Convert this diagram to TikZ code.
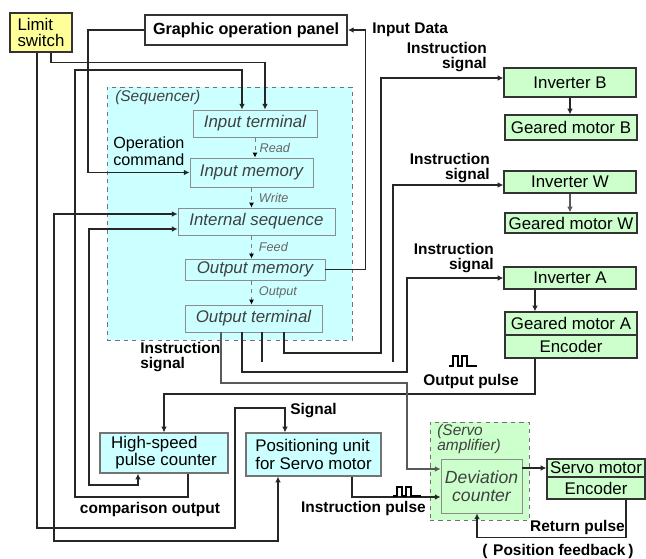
\documentclass[tikz,border=0pt]{standalone}
\usepackage{fontspec}
\setmainfont{Liberation Sans}
\usetikzlibrary{arrows.meta, positioning}

\definecolor{seqcyan}{HTML}{CCFFFF}
\definecolor{unitgreen}{HTML}{CCFFCC}
\definecolor{switchyellow}{HTML}{FFFF99}

\begin{document}
\begin{tikzpicture}[
  x=0.025cm, y=-0.025cm,
  box/.style={draw=black!80, line width=0.9pt, inner sep=0pt, align=center, font=\fontsize{12}{11}\selectfont},
  unitbox/.style={box, fill=unitgreen},
  stage/.style={draw=black!45, line width=0.6pt, fill=seqcyan, inner sep=0pt, align=center, font=\fontsize{12}{12}\selectfont\itshape, text=black!75},
  region/.style={draw=black!55, dashed, line width=0.6pt, inner sep=0pt},
  lbl/.style={font=\fontsize{11}{10.5}\selectfont\bfseries, inner sep=0pt},
  note/.style={font=\fontsize{9}{9}\selectfont\itshape, text=black!60, inner sep=1pt},
  arrow/.style={-{Latex[length=4pt,width=4pt]}},
  twoway/.style={{Latex[length=4pt,width=4pt]}-{Latex[length=4pt,width=4pt]}},
  conn/.style={line width=0.9pt, black!85},
  heavy/.style={line width=1.5pt, black!85},
  light/.style={line width=0.8pt, black!65},
  flow/.style={-{Latex[length=3.5pt,width=3.5pt,color=black]}, line width=0.6pt, black!50, dashed},
  pulse/.style={line width=1.2pt, black}
]
\useasboundingbox (0,0) rectangle (646,559);
\fill[white] (0,0) rectangle (646,559);

% LIMIT SWITCH AND PANEL
\node[box, fill=switchyellow, line width=1.2pt, minimum width=1.55cm, minimum height=0.975cm, align=left] (limit) at (41,32.5) {Limit\\switch};
\node[box, fill=white, line width=1.3pt, minimum width=5.05cm, minimum height=0.75cm, font=\fontsize{11.5}{11}\selectfont\bfseries] (panel) at (246,30) {Graphic operation panel};

% SEQUENCER
\node[region, fill=seqcyan, minimum width=6.125cm, minimum height=6.325cm] (seq) at (229.5,213.5) {};
\node[anchor=west, inner sep=0pt, font=\fontsize{11}{11}\selectfont\itshape, text=black!75] (seqTitle) at (115,98) {(Sequencer)};
\node[stage, minimum width=3.1cm, minimum height=0.675cm] (inTerm) at (255,123.5) {Input terminal};
\node[stage, minimum width=3.075cm, minimum height=0.725cm] (inMem) at (251.5,172.5) {Input memory};
\node[stage, minimum width=3.925cm, minimum height=0.675cm] (intSeq) at (256.5,221.5) {Internal sequence};
\node[stage, minimum width=3.5cm, minimum height=0.525cm] (outMem) at (255,269.5) {Output memory};
\node[stage, minimum width=3.425cm, minimum height=0.675cm] (outTerm) at (253.5,318.5) {Output terminal};

\draw[flow] (inTerm.south) -- (inTerm.south |- inMem.north) node[midway, right, note, xshift=2pt] {Read};
\draw[flow] (inMem.south) -- (inMem.south |- intSeq.north) node[midway, right, note, xshift=4pt] {Write};
\draw[flow] (inMem.south |- intSeq.south) -- (inMem.south |- outMem.north) node[midway, right, note, xshift=4pt] {Feed};
\draw[flow] (inMem.south |- outMem.south) -- (inMem.south |- outTerm.north) node[midway, right, note, xshift=4pt] {Output};

\node[anchor=west, align=left, inner sep=0pt, font=\fontsize{11.5}{10.5}\selectfont] (opCmd) at (113,151) {Operation\\command};

% INVERTERS AND MOTORS
\node[unitbox, minimum width=3.3cm, minimum height=0.725cm] (invB) at (570,82.5) {Inverter B};
\node[unitbox, minimum width=3.3cm, minimum height=0.625cm] (gearB) at (571,127.5) {Geared motor B};
\node[unitbox, minimum width=3.3cm, minimum height=0.55cm] (invW) at (570,182) {Inverter W};
\node[unitbox, minimum width=3.3cm, minimum height=0.5cm] (gearW) at (571,223) {Geared motor W};
\node[unitbox, minimum width=3.3cm, minimum height=0.55cm] (invA) at (570,278) {Inverter A};
\node[unitbox, minimum width=3.3cm, minimum height=0.575cm] (gearA) at (571,323.5) {Geared motor A};
\node[unitbox, minimum width=3.3cm, minimum height=0.575cm] (encA) at (571,346.5) {Encoder};

\draw[heavy, arrow] (invB.south) -- (invB.south |- gearB.north);
\draw[light, arrow] (invW.south) -- (invW.south |- gearW.north);
\draw[heavy, arrow] ([xshift=-0.875cm]invA.south) -- ([xshift=-0.875cm]invA.south |- gearA.north);

% COUNTER, POSITIONING UNIT, SERVO
\node[box, fill=seqcyan, draw=black!55, minimum width=3.2cm, minimum height=1cm, align=left] (hsCnt) at (164,453) {High-speed\\\hspace*{3pt}pulse counter};
\node[box, fill=seqcyan, draw=black!55, minimum width=3.375cm, minimum height=1.075cm, align=left, font=\fontsize{12}{13}\selectfont] (posUnit) at (313.5,454.5) {Positioning unit\\for Servo motor};

\node[region, fill=unitgreen, minimum width=2.475cm, minimum height=2.45cm] (servoAmp) at (479.5,471) {};
\node[anchor=north west, align=left, inner sep=0pt, font=\fontsize{11}{10.5}\selectfont\itshape, text=black!75] (ampTitle) at (437,424) {(Servo\\amplifier)};
\node[stage, fill=unitgreen, minimum width=2.025cm, minimum height=1.35cm, font=\fontsize{12.5}{12.5}\selectfont\itshape] (devCnt) at (481.5,486) {Deviation\\counter};

\node[unitbox, minimum width=2.45cm, minimum height=0.45cm] (srvMotor) at (596,468) {Servo motor};
\node[unitbox, minimum width=2.45cm, minimum height=0.55cm] (srvEnc) at (596,488) {Encoder};

% LEFT SIDE WIRING
\draw[conn, line width=1.2pt, arrow] ([xshift=-0.1cm]limit.south) -- (37,528) -- (235,528) -- (235,408) -| ([xshift=-0.7125cm]posUnit.north);
\draw[conn, arrow] ([xshift=0.25cm]limit.south) -- ++(0,10) -| ([xshift=0.25cm]inTerm.north);
\draw[heavy, arrow] ([xshift=0.6cm]hsCnt.south) |- (75,497) -- (75,70) -| ([xshift=-0.325cm]inTerm.north);
\draw[conn, line width=1.2pt, arrow] (panel.west) -- (88,30) |- (inMem.west);
\draw[conn, twoway] ([yshift=0.1875cm]intSeq.west) -| (54,541) -| ([xshift=-0.8875cm]posUnit.south);
\draw[conn, twoway] ([yshift=-0.1875cm]intSeq.west) -| (89,485) -| ([xshift=-0.65cm]hsCnt.south);
\draw[heavy, arrow] ([xshift=-0.9cm]encA.south) -- ++(0,35) -| (hsCnt.north);

% OUTPUT TERMINAL WIRING
\draw[light, arrow] ([xshift=-0.8125cm]outTerm.south) |- (407,383) |- ([yshift=0.425cm]devCnt.west);
\draw[conn, arrow] ([xshift=-0.2875cm]outTerm.south) |- (407,372) |- (invA.west);
\draw[heavy] ([xshift=0.2125cm]outTerm.south) -- ++(0,30);
\coordinate (wRise) at (393,362);
\draw[conn, arrow] (wRise) |- ([yshift=-0.075cm]invW.west);
\draw[conn, arrow] ([xshift=0.7625cm]outTerm.south) |- (381,353) |- ([yshift=0.1125cm]invB.west);
\draw[conn, arrow] (outMem.east) -- ++(40,0) |- (panel.east);

% SERVO WIRING
\draw[conn, arrow] ([xshift=0.9625cm]posUnit.south) |- ([yshift=-0.275cm]devCnt.west);
\draw[conn, arrow] (devCnt.east |- srvMotor.west) -- (srvMotor.west);
\draw[conn, arrow] ([xshift=0.75cm]srvEnc.south) -- ++(0,38) -| ([xshift=-0.1125cm]devCnt.south);

% PULSE MARKS
\draw[pulse] (449,366) -- ++(4,0) -- ++(0,-10) -- ++(5,0) -- ++(0,10) -- ++(4,0) -- ++(0,-10) -- ++(5,0) -- ++(0,10) -- ++(10,0);
\draw[pulse] (393,496) -- ++(4,0) -- ++(0,-9) -- ++(5,0) -- ++(0,9) -- ++(4,0) -- ++(0,-9) -- ++(5,0) -- ++(0,9) -- ++(10,0);

% LABELS
\node[lbl, anchor=west] (inDataLbl) at (372,30) {Input Data};
\node[lbl, anchor=east, align=right] (sigBLbl) at (487,57) {Instruction\\signal};
\node[lbl, anchor=east, align=right] (sigWLbl) at (490,168) {Instruction\\signal};
\node[lbl, anchor=east, align=right] (sigALbl) at (494,258) {Instruction\\signal};
\node[lbl, anchor=west, align=left] (sigLbl) at (140,357) {Instruction\\signal};
\node[lbl] (outPulseLbl) at (471,381) {Output pulse};
\node[lbl, anchor=west] (signalLbl) at (290,411) {Signal};
\node[lbl] (cmpLbl) at (150,509) {comparison output};
\node[lbl, anchor=east] (instPulseLbl) at (426,508) {Instruction pulse};
\node[lbl, anchor=east] (retLbl) at (625,527) {Return pulse};
\node[lbl] (fbLbl) at (558,551) {(\hspace{4pt}Position feedback\hspace{2pt})};

\end{tikzpicture}
\end{document}
